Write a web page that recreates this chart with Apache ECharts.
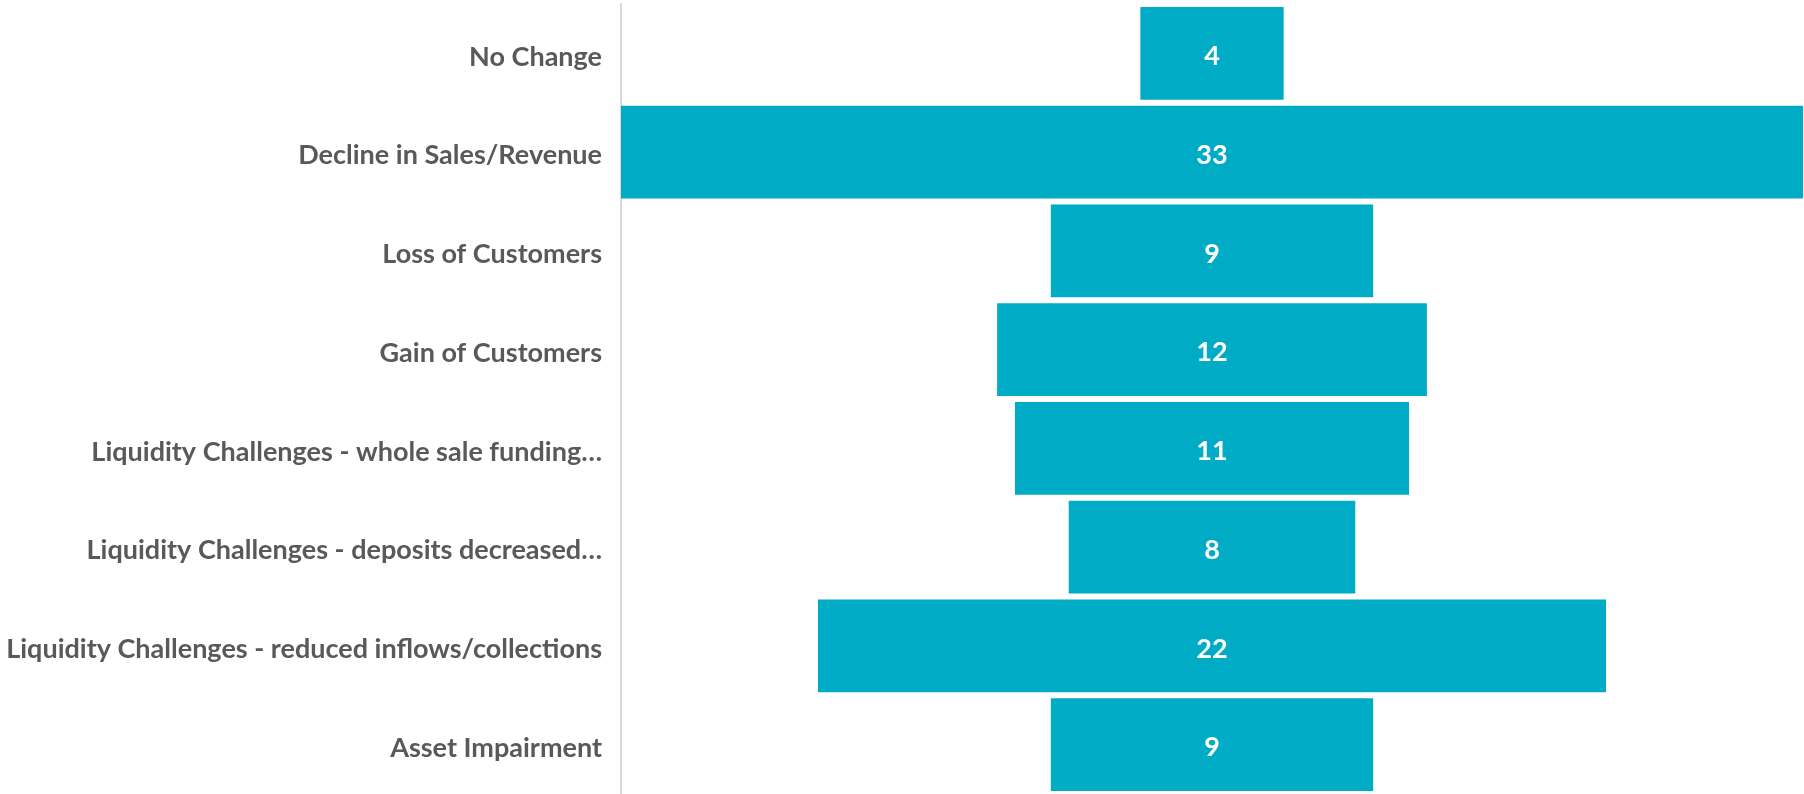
<!DOCTYPE html>
<html>
<head>
<meta charset="utf-8">
<script src="https://cdn.jsdelivr.net/npm/echarts@6/dist/echarts.min.js"></script>
<style>
  html, body { margin: 0; padding: 0; background: #fff; }
  #chart { width: 1804px; height: 794px; }
</style>
</head>
<body>
<div id="chart"></div>
<script>
// categories top to bottom
const categories = [
  "No Change",
  "Decline in Sales/Revenue",
  "Loss of Customers",
  "Gain of Customers",
  "Liquidity Challenges - whole sale funding…",
  "Liquidity Challenges - deposits decreased…",
  "Liquidity Challenges - reduced inflows/collections",
  "Asset Impairment"
];
const counts = [4, 33, 9, 12, 11, 8, 22, 9];
const maxCount = 33;

// invisible spacer so each bar sits centred
const spacer = counts.map(v => (maxCount - v) / 2);

const chart = echarts.init(document.getElementById("chart"));
chart.setOption({
  animation: false,
  grid: { left: 621, right: 1, top: 4, bottom: 0 },
  xAxis: {
    type: "value",
    min: 0,
    max: maxCount,
    show: false
  },
  yAxis: {
    type: "category",
    inverse: true,
    data: categories,
    axisLine: { show: true, lineStyle: { color: "#d9d9d9", width: 2 } },
    axisTick: { show: false },
    axisLabel: {
      margin: 19,
      formatter: "{t|{value}}",
      rich: {
        t: {
          padding: [7, 0, 0, 0],
          color: "#595959",
          fontFamily: "Lato",
          fontWeight: "bold",
          fontSize: 27
        }
      }
    }
  },
  series: [
    {
      type: "bar",
      stack: "total",
      data: spacer,
      itemStyle: { color: "transparent" },
      barCategoryGap: "6%",
      silent: true
    },
    {
      type: "bar",
      stack: "total",
      data: counts,
      barCategoryGap: "6%",
      itemStyle: { color: "#00acc5" },
      label: {
        show: true,
        position: "inside",
        offset: [0, 3],
        color: "#fff",
        fontFamily: "Lato",
        fontWeight: "bold",
        fontSize: 27
      }
    }
  ]
});
</script>
</body>
</html>
